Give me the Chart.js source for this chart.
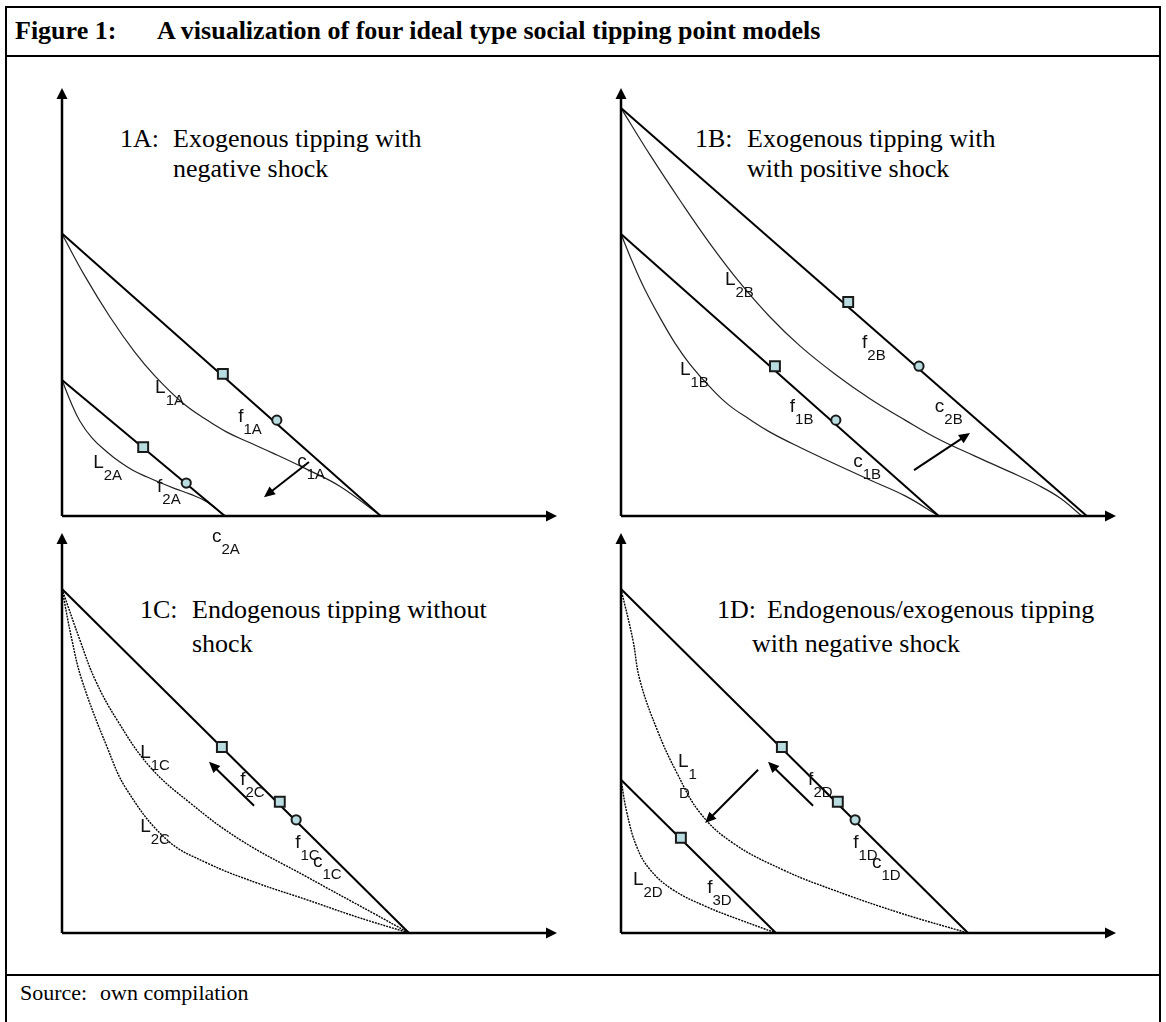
<!DOCTYPE html>
<html lang="en">
<head>
<meta charset="UTF-8">
<title>Four ideal type social tipping point models</title>
<script src="https://cdn.jsdelivr.net/npm/chart.js"></script>
<style>
  body { margin:0; background:#fff; width:1166px; height:1022px; overflow:hidden; position:relative;
         font-family:"Liberation Serif","Times New Roman",serif; color:#000; }
  .abs { position:absolute; white-space:nowrap; }
  #frame { left:5px; top:6px; width:1156px; height:1040px; border:2px solid #000; box-sizing:border-box; }
  .rule { left:5px; width:1156px; height:2px; background:#000; }
  .ttl { font-weight:bold; font-size:26px; line-height:26px; }
  .hd { font-size:26px; line-height:26px; }
  .src { font-size:22px; line-height:22px; }
  canvas { position:absolute; }
</style>
</head>
<body>
<div id="frame" class="abs"></div>
<div class="abs rule" style="top:55px"></div>
<div class="abs rule" style="top:974px"></div>

<div class="abs ttl" style="left:15px;top:18px">Figure 1:</div>
<div class="abs ttl" style="left:157px;top:18px">A visualization of four ideal type social tipping point models</div>

<div class="abs hd" style="left:120px;top:126px">1A:</div>
<div class="abs hd" style="left:173px;top:126px">Exogenous tipping with</div>
<div class="abs hd" style="left:173px;top:156px">negative shock</div>

<div class="abs hd" style="left:695px;top:126px">1B:</div>
<div class="abs hd" style="left:747px;top:126px">Exogenous tipping with</div>
<div class="abs hd" style="left:747px;top:156px">with positive shock</div>

<div class="abs hd" style="left:140px;top:597px">1C:</div>
<div class="abs hd" style="left:192px;top:597px">Endogenous tipping without</div>
<div class="abs hd" style="left:192px;top:631px">shock</div>

<div class="abs hd" style="left:717px;top:597px">1D:</div>
<div class="abs hd" style="left:767px;top:597px">Endogenous/exogenous tipping</div>
<div class="abs hd" style="left:752px;top:631px">with negative shock</div>

<div class="abs src" style="left:20px;top:982px">Source:</div>
<div class="abs src" style="left:100px;top:982px">own compilation</div>

<canvas id="chartA" width="583" height="520" style="left:0;top:60px"></canvas>
<canvas id="chartB" width="583" height="520" style="left:583px;top:60px"></canvas>
<canvas id="chartC" width="583" height="450" style="left:0;top:520px"></canvas>
<canvas id="chartD" width="583" height="450" style="left:583px;top:520px"></canvas>

<script>
// values in axis units (0-100 on both axes of every panel)
// 1A
const lineA1 = [[0, 66], [64.4, 0]];
const lineA2 = [[0, 31.8], [32.9, 0]];
const curveA1 = [[0, 65.9], [4.6, 56.1], [9.7, 46.5], [14.7, 38.3], [18.8, 32.7], [24.4, 26.4], [28.9, 22.7],
                 [33.3, 19.6], [38.0, 17.1], [42.6, 14.7], [49.5, 10.9], [56.2, 6.9], [64.4, 0]];
const curveA2 = [[0, 31.8], [1.6, 27.1], [3.6, 22.2], [6.1, 18.2], [9.1, 14.95], [11.7, 12.6], [14.3, 10.7],
                 [17.2, 9.1], [19.8, 7.8], [22.8, 6.4], [25.9, 5.1], [29.3, 3.3], [32.9, 0]];
const squaresA = [[32.5, 33.2], [16.4, 16.1]];
const circlesA = [[43.4, 22.4], [25.1, 7.7]];
const arrowsA = [[49.9, 12.6, 40.8, 4.4]];
const labelsA = [['L', '1A', 18.8, 28.7], ['f', '1A', 35.6, 22.0], ['c', '1A', 47.5, 11.4],
                 ['L', '2A', 6.3, 11.2], ['f', '2A', 19.2, 5.6], ['c', '2A', 30.3, -6.1]];

// 1B
const lineB1 = [[0, 65.9], [64.2, 0]];
const lineB2 = [[0, 95.3], [94.1, 0]];
const curveB1 = [[0, 65.9], [2.4, 59.1], [4.8, 53.0], [7.9, 46.3], [10.9, 40.4], [13.9, 35.5], [18.0, 30.1],
                 [21.8, 25.9], [26.1, 22.5], [30.1, 19.6], [36.2, 16.0], [42.8, 12.4], [50.3, 8.4], [57.4, 4.7], [64.2, 0]];
const curveB2 = [[0, 95.3], [5.9, 84.3], [12.0, 73.6], [18.0, 63.6], [24.1, 54.4], [30.1, 46.5], [36.2, 39.7],
                 [43.2, 33.2], [50.3, 27.4], [57.4, 22.4], [64.4, 17.8], [71.5, 14.0], [78.6, 10.3], [84.6, 7.0],
                 [88.7, 4.2], [93.1, 0]];
const squaresB = [[31.1, 35.0], [45.9, 50.0]];
const circlesB = [[43.4, 22.4], [60.2, 35.0]];
const arrowsB = [[59.2, 10.7, 70.5, 19.4]];
const labelsB = [['L', '2B', 21.0, 54.0], ['f', '2B', 48.7, 39.3], ['L', '1B', 11.9, 32.9],
                 ['f', '1B', 34.1, 24.3], ['c', '1B', 46.9, 11.4], ['c', '2B', 63.4, 24.3]];

// 1C
const lineC1 = [[0, 86], [70.1, 0]];
const curveC1 = [[0, 86], [3.6, 73.3], [6.7, 63.3], [11.1, 53.3], [17.8, 41.5], [25.9, 32.5], [36.0, 23.3], [49.5, 14.0], [62.8, 5.0], [70.1, 0]];
const curveC2 = [[0, 86], [2.0, 73.3], [4.0, 63.3], [9.1, 46.5], [13.1, 35.8], [21.2, 23.3], [29.3, 17.5], [39.4, 12.5], [49.5, 8.3], [59.6, 4.0], [70.1, 0]];
const squaresC = [[32.3, 46.5], [44.0, 32.8]];
const circlesC = [[47.3, 28.3]];
const arrowsC = [[38.8, 31.8, 29.7, 42.8]];
const labelsC = [['L', '1C', 15.8, 43.8], ['L', '2C', 15.8, 25.3], ['f', '2C', 36.0, 37.0],
                 ['f', '1C', 47.1, 21.3], ['c', '1C', 50.7, 16.5]];

// 1D
const lineD1 = [[0, 86], [70.1, 0]];
const lineD2 = [[0, 38.3], [31.3, 0]];
const curveD1 = [[0, 86], [2.4, 73.3], [3.8, 63.3], [7.3, 50.8], [11.3, 40.0], [16.0, 30.0], [22.6, 22.5], [32.7, 15.8], [42.8, 10.8], [56.4, 5.0], [70.1, 0]];
const curveD2 = [[0, 38.3], [1.2, 30.0], [3.2, 21.5], [5.9, 15.8], [10.5, 10.8], [17.4, 6.5], [24.0, 3.3], [31.3, 0]];
const squaresD = [[32.5, 46.5], [43.8, 32.8], [12.1, 23.8]];
const circlesD = [[47.3, 28.3]];
const arrowsD = [[27.7, 40.8, 17.0, 27.5], [38.8, 31.8, 29.7, 42.8]];
const labelsD = [['L', '1', 11.5, 41.5], ['', 'D', 11.7, 36.8], ['L', '2D', 2.4, 12.0], ['f', '3D', 17.4, 10.0],
                 ['f', '2D', 37.8, 37.0], ['f', '1D', 46.9, 21.3], ['c', '1D', 50.7, 16.3]];

const MARK_FILL = '#b8dce0';
const pts = arr => arr.map(p => ({x: p[0], y: p[1]}));

function arrowHead(ctx, x1, y1, x2, y2, len, half) {
  const a = Math.atan2(y2 - y1, x2 - x1);
  ctx.beginPath();
  ctx.moveTo(x2, y2);
  ctx.lineTo(x2 - len * Math.cos(a) + half * Math.sin(a), y2 - len * Math.sin(a) - half * Math.cos(a));
  ctx.lineTo(x2 - len * Math.cos(a) - half * Math.sin(a), y2 - len * Math.sin(a) + half * Math.cos(a));
  ctx.closePath();
  ctx.fill();
}

function overlay(p) {
  return {
    id: 'overlay' + p.id,
    afterDatasetsDraw(chart) {
      const {ctx, chartArea: a, scales: {x, y}} = chart;
      ctx.save();
      ctx.strokeStyle = '#000';
      ctx.fillStyle = '#000';
      // axes with arrow tips
      ctx.lineWidth = 2.5;
      ctx.beginPath();
      ctx.moveTo(a.left, a.bottom); ctx.lineTo(a.left, a.top + 6);
      ctx.moveTo(a.left, a.bottom); ctx.lineTo(a.right - 6, a.bottom);
      ctx.stroke();
      arrowHead(ctx, a.left, a.bottom, a.left, a.top, 11, 5.5);
      arrowHead(ctx, a.left, a.bottom, a.right, a.bottom, 11, 5.5);
      // shift arrows
      ctx.lineWidth = 2;
      p.arrows.forEach(r => {
        const x1 = x.getPixelForValue(r[0]), y1 = y.getPixelForValue(r[1]);
        const x2 = x.getPixelForValue(r[2]), y2 = y.getPixelForValue(r[3]);
        const ang = Math.atan2(y2 - y1, x2 - x1);
        ctx.beginPath();
        ctx.moveTo(x1, y1);
        ctx.lineTo(x2 - 6 * Math.cos(ang), y2 - 6 * Math.sin(ang));
        ctx.stroke();
        arrowHead(ctx, x1, y1, x2, y2, 11, 5);
      });
      // curve / line labels with subscripts
      ctx.fillStyle = '#111';
      ctx.textBaseline = 'alphabetic';
      p.labels.forEach(l => {
        const lx = x.getPixelForValue(l[2]), ly = y.getPixelForValue(l[3]);
        ctx.font = '19px "Liberation Sans", Arial, sans-serif';
        ctx.fillText(l[0], lx, ly);
        const w = l[0] ? ctx.measureText(l[0]).width : 0;
        ctx.font = '15px "Liberation Sans", Arial, sans-serif';
        ctx.fillText(l[1], lx + w, ly + 12);
      });
      ctx.restore();
    }
  };
}

function makePanel(p) {
  const ds = [];
  ds.push({data: pts(p.squares), pointStyle: 'rect', pointRadius: 7, backgroundColor: MARK_FILL,
           borderColor: '#1a1a1a', borderWidth: 2, showLine: false, order: 0, clip: false});
  ds.push({data: pts(p.circles), pointStyle: 'circle', pointRadius: 4.6, backgroundColor: MARK_FILL,
           borderColor: '#1a1a1a', borderWidth: 2, showLine: false, order: 0, clip: false});
  p.lines.forEach(l => ds.push({data: pts(l), showLine: true, borderColor: '#000', borderWidth: 2,
           pointRadius: 0, order: 1, clip: false}));
  p.curves.forEach(c => ds.push({data: pts(c), showLine: true, borderColor: p.curveColor, borderWidth: p.curveWidth,
           borderDash: p.dash, pointRadius: 0, tension: 0.4, order: 2, clip: false}));
  new Chart(document.getElementById('chart' + p.id), {
    type: 'scatter',
    data: {datasets: ds},
    options: {
      responsive: false,
      animation: false,
      events: [],
      layout: {padding: p.pad},
      plugins: {legend: {display: false}, tooltip: {enabled: false}},
      scales: {
        x: {type: 'linear', min: 0, max: 100, display: false},
        y: {type: 'linear', min: 0, max: 100, display: false}
      }
    },
    plugins: [overlay(p)]
  });
}

makePanel({id: 'A', pad: {left: 62, top: 28, right: 26, bottom: 64}, dash: [], curveColor: '#222', curveWidth: 1.2,
  lines: [lineA1, lineA2], curves: [curveA1, curveA2], squares: squaresA, circles: circlesA,
  arrows: arrowsA, labels: labelsA});
makePanel({id: 'B', pad: {left: 38, top: 28, right: 50, bottom: 64}, dash: [], curveColor: '#222', curveWidth: 1.2,
  lines: [lineB1, lineB2], curves: [curveB1, curveB2], squares: squaresB, circles: circlesB,
  arrows: arrowsB, labels: labelsB});
makePanel({id: 'C', pad: {left: 62, top: 13, right: 26, bottom: 37}, dash: [2, 1], curveColor: '#000', curveWidth: 1.4,
  lines: [lineC1], curves: [curveC1, curveC2], squares: squaresC, circles: circlesC,
  arrows: arrowsC, labels: labelsC});
makePanel({id: 'D', pad: {left: 38, top: 13, right: 50, bottom: 37}, dash: [2, 1], curveColor: '#000', curveWidth: 1.4,
  lines: [lineD1, lineD2], curves: [curveD1, curveD2], squares: squaresD, circles: circlesD,
  arrows: arrowsD, labels: labelsD});
</script>
</body>
</html>
